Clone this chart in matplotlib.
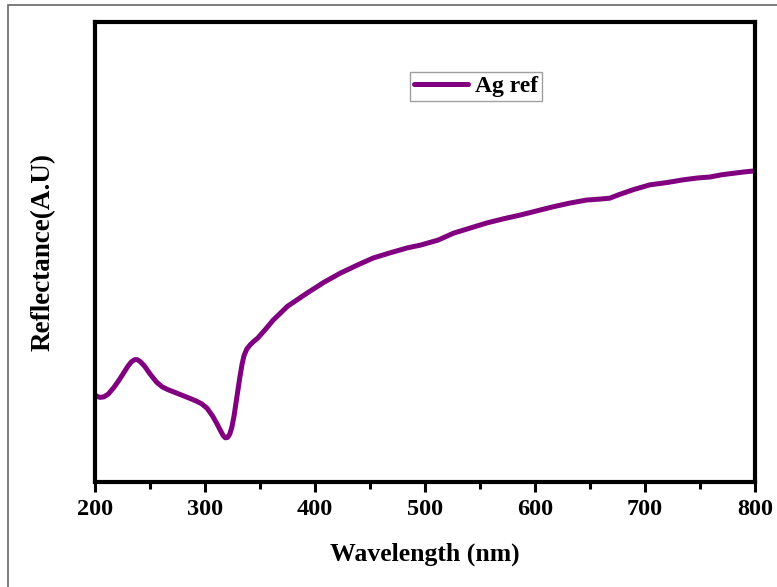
import matplotlib
matplotlib.use("Agg")
import matplotlib.pyplot as plt
from matplotlib.patches import Rectangle
from matplotlib.ticker import MultipleLocator

plt.rcParams['font.family'] = ['Liberation Serif', 'DejaVu Serif']
plt.rcParams['font.weight'] = 'bold'

wavelength = [200, 202, 204.5, 208, 212, 217, 222, 226, 230, 233, 236, 238.5, 241, 245, 250,
              256, 261, 266, 274.5, 285, 292, 297, 302, 307,
              311, 314, 316.5, 318.5, 320.5, 322.5, 324.5, 326.5, 329, 331.5, 333.6, 335.5,
              338, 341, 344, 348, 355, 362,
              375, 393, 408, 423, 438, 453, 468, 484, 496, 512, 526, 541, 556, 571, 586,
              601, 616, 631, 647, 659, 668, 675.5, 690, 704.5, 720, 735, 748, 759, 770,
              780, 790, 798]
reflectance = [0.189, 0.186, 0.184, 0.185, 0.191, 0.205, 0.222, 0.237, 0.252, 0.261, 0.266,
               0.266, 0.262, 0.252, 0.235, 0.217, 0.207, 0.201, 0.193,
               0.183, 0.176, 0.170, 0.160, 0.143, 0.126, 0.112, 0.101, 0.096, 0.097, 0.104,
               0.120, 0.145, 0.185, 0.225, 0.255, 0.275, 0.289, 0.298, 0.305, 0.313, 0.332,
               0.352, 0.382, 0.411, 0.434,
               0.454, 0.471, 0.487, 0.498, 0.509, 0.515, 0.526, 0.541, 0.552, 0.563,
               0.572, 0.580, 0.589, 0.598, 0.606, 0.613, 0.615, 0.617, 0.624, 0.636,
               0.646, 0.651, 0.657, 0.661, 0.663, 0.668, 0.671, 0.674, 0.676]

xticks = [200, 300, 400, 500, 600, 700, 800]

W, H = 777, 587
fig = plt.figure(figsize=(W / 100, H / 100), dpi=100)
ax = fig.add_axes([95 / W, 1 - 482 / H, (755 - 95) / W, (482 - 22) / H])

ax.plot(wavelength, reflectance, color='#800080', lw=3.6, label='Ag ref',
        solid_capstyle='round', solid_joinstyle='round')

ax.set_xlim(200, 800)
ax.set_ylim(0, 1)
ax.set_xticks(xticks)
ax.xaxis.set_minor_locator(MultipleLocator(50))
ax.set_yticks([])

for s in ax.spines.values():
    s.set_linewidth(3)
ax.tick_params(axis='x', which='major', direction='out', length=7, width=2.2,
               labelsize=17.5, pad=5.5)
ax.tick_params(axis='x', which='minor', direction='out', length=5, width=2.2)
for lbl in ax.get_xticklabels():
    lbl.set_fontweight('bold')

ax.set_xlabel('Wavelength (nm)', fontsize=18.5, fontweight='bold', labelpad=16)
ax.set_ylabel('Reflectance(A.U)', fontsize=19.5, fontweight='bold', labelpad=28)

leg = ax.legend(loc='upper left', bbox_to_anchor=((410 - 95) / 660, (482 - 72) / 460),
                frameon=True, fancybox=False, fontsize=17, handlelength=2.3,
                borderpad=0.15, handletextpad=0.3, borderaxespad=0)
leg.get_frame().set_edgecolor('#888888')
leg.get_frame().set_linewidth(1.0)
for t in leg.get_texts():
    t.set_fontweight('bold')

fig.patches.append(Rectangle((8 / W, -0.1), 1.2, 1 - 5 / H + 0.1, transform=fig.transFigure,
                             fill=False, edgecolor='#666666', lw=1.2))

fig.savefig('out.png', dpi=100)
